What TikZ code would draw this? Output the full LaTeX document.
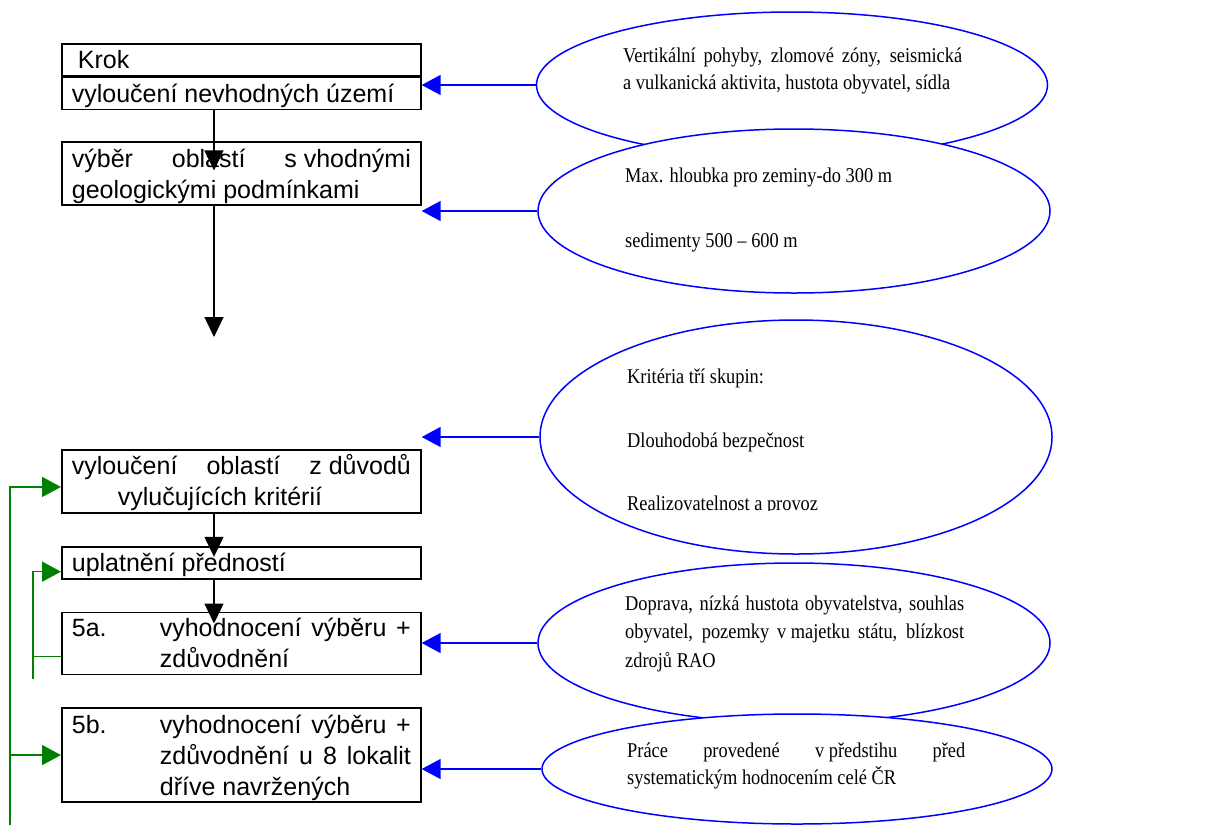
\documentclass[tikz,border=0pt]{standalone}
\usepackage{fontspec}
\setmainfont{Liberation Serif}
\setsansfont{Liberation Sans}
\newfontfamily\ovalfont[FakeStretch=0.875]{Liberation Serif}
\usetikzlibrary{arrows.meta,positioning,shapes.geometric,calc}
\definecolor{ovalblue}{HTML}{0000FF}
\definecolor{railgreen}{HTML}{008000}
\newcommand{\jline}[2][339pt]{\makebox[#1][s]{#2}}
\newcommand{\bstrut}{\rule[-6.5pt]{0pt}{31pt}}
\newcommand{\ostrut}{\rule[-6pt]{0pt}{27pt}}
\tikzset{
  stepbox/.style={draw=black, line width=1.7pt, fill=white, text width=339pt, inner xsep=10pt, inner ysep=0pt, align=justify, font=\sffamily\fontsize{25}{31}\selectfont},
  oval/.style={ellipse, draw=ovalblue, line width=1.5pt, fill=white, inner sep=0pt},
  ovaltext/.style={text width=339pt, inner sep=0pt, align=justify, anchor=north west, font=\ovalfont\fontsize{21}{27}\selectfont},
  flowarrow/.style={-{Triangle[length=20pt,width=19pt]}, line width=1.4pt, draw=black},
  bluearrow/.style={-{Triangle[length=19pt,width=20pt]}, line width=1.5pt, draw=ovalblue},
  greenarrow/.style={-{Triangle[length=19pt,width=20pt]}, line width=1.5pt, draw=railgreen},
  greenline/.style={line width=1.5pt, draw=railgreen}
}
\begin{document}
\begin{tikzpicture}[x=1pt,y=-1pt]
\useasboundingbox (0,0) rectangle (1209,825);
\node[stepbox, minimum height=32pt, anchor=north west] (krok) at (61,43) {\bstrut\hspace{6pt}Krok};
\node[stepbox, minimum height=32pt, below=0pt of krok] (vylouc) {\bstrut vyloučení nevhodných území};
\node[stepbox, minimum height=63pt, below=31pt of vylouc] (vyber) {\bstrut\jline{výběr oblastí \mbox{s vhodnými}}\\\bstrut geologickými podmínkami};
\node[stepbox, minimum height=63pt, below=243pt of vyber] (vyl2) {\bstrut\jline{vyloučení oblastí \mbox{z důvodů}}\\\bstrut\hspace*{46pt}vylučujících kritérií};
\node[stepbox, minimum height=32pt, below=32pt of vyl2] (uplat) {\bstrut uplatnění předností};
\node[stepbox, minimum height=62pt, below=32pt of uplat] (peta) {\bstrut\makebox[88pt][l]{5a.}\jline[251pt]{vyhodnocení výběru +}\\\bstrut\hspace*{88pt}zdůvodnění};
\node[stepbox, minimum height=94pt, below=32pt of peta] (petb) {\bstrut\makebox[88pt][l]{5b.}\jline[251pt]{vyhodnocení výběru +}\\\bstrut\hspace*{88pt}\jline[251pt]{zdůvodnění u 8 lokalit}\\\bstrut\hspace*{88pt}dříve navržených};

\node[oval, minimum width=511pt, minimum height=146pt] (e1) at (792,85) {};
\node[oval, minimum width=512pt, minimum height=164pt] (e2) at (794,211) {};
\node[oval, minimum width=512pt, minimum height=234pt] (e3) at (796,437) {};
\node[oval, minimum width=512pt, minimum height=160pt] (e4) at (794,643) {};
\node[oval, minimum width=510pt, minimum height=110pt] (e5) at (797,769) {};

\node[ovaltext] (t1) at (623,41) {\ostrut\jline{Vertikální pohyby, zlomové zóny, seismická}\\\ostrut a vulkanická aktivita, hustota obyvatel, sídla};
\node[ovaltext] (t2) at (625,161) {\ostrut Max. hloubka pro zeminy-do 300 m\\[38pt]\ostrut sedimenty 500 – 600 m};
\begin{scope}
\clip (540,300) rectangle (1052,510.5);
\node[ovaltext] (t3) at (627,362) {\ostrut Kritéria tří skupin:\\[37pt]\ostrut Dlouhodobá bezpečnost\\[36pt]\ostrut Realizovatelnost a provoz};
\end{scope}
\node[ovaltext] (t4) at (625,589) {\ostrut\jline{Doprava, nízká hustota obyvatelstva, souhlas}\\[1.5pt]\ostrut\jline{obyvatel, pozemky \mbox{v majetku} státu, blízkost}\\[1.5pt]\ostrut zdrojů RAO};
\node[ovaltext] (t5) at (627,736) {\ostrut\jline[338pt]{Práce provedené \mbox{v předstihu} před}\\\ostrut systematickým hodnocením celé ČR};

\draw[bluearrow] (e1.west) -- (e1.west -| vylouc.east);
\draw[bluearrow] (e2.west) -- (e2.west -| vyber.east);
\draw[bluearrow] (e3.west) -- (e3.west -| vyl2.east);
\draw[bluearrow] (e4.west) -- (e4.west -| peta.east);
\draw[bluearrow] (e5.west) -- (e5.west -| petb.east);

\coordinate (axis) at (214,0);
\coordinate (gapend) at (214,337);
\draw[flowarrow] (vylouc.south -| axis) -- ($(vyber.north -| axis)+(0,29)$);
\draw[flowarrow] (vyber.south -| axis) -- (gapend);
\draw[flowarrow] (vyl2.south -| axis) -- ($(uplat.north -| axis)+(0,11)$);
\draw[flowarrow] (uplat.south -| axis) -- ($(peta.north -| axis)+(0,12)$);

\coordinate (railout) at (10,825);
\coordinate (railin) at (33,679);
\draw[greenarrow] (railout) |- ($(vyl2.west)+(0,5.5)$);
\draw[greenarrow] (railout |- petb.west) -- (petb.west);
\draw[greenarrow] (railin) |- ($(uplat.west)+(0,9)$);
\draw[greenline] ($(peta.west)+(0,13)$) -| (railin);
\end{tikzpicture}
\end{document}
